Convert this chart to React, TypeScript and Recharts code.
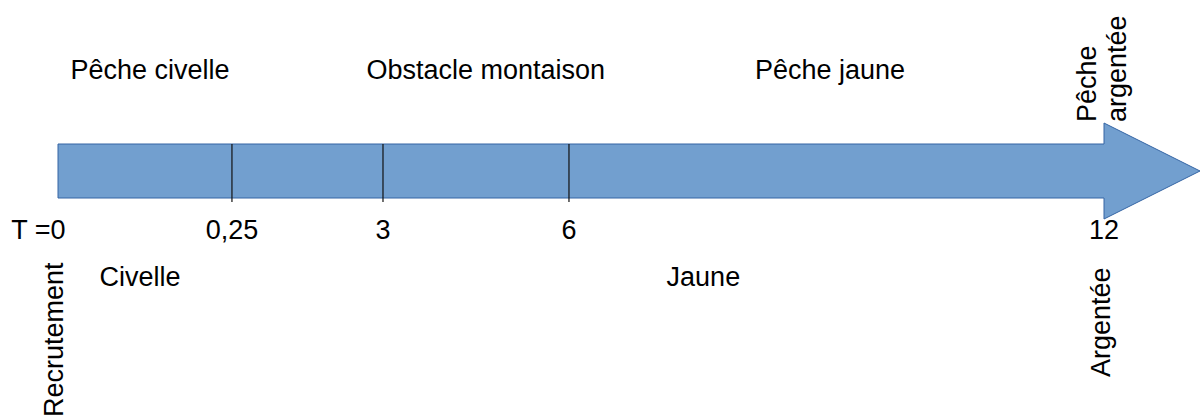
import React from 'react';
import { ComposedChart, Bar, XAxis, YAxis, ReferenceDot } from 'recharts';

// ---- data ----
const milestoneLabels = ['0', '0,25', '3', '6', '12'];
const segmentKeys = ['s0', 's1', 's2', 's3'];
// relative (schematic) length of each stage along the arrow, in % of the shaft
const segmentWidths = [16.63, 14.44, 17.78, 51.15];
const topLabels = ['Pêche civelle', 'Obstacle montaison', 'Pêche jaune'];
const topLabelPos = [8.8, 40.9, 73.8];
const stageLabels = ['Civelle', 'Jaune'];
const stageLabelPos = [7.84, 61.7];
const eventLabels = ['Recrutement', 'Argentée'];
const eventLabelPos = [0, 100];
const topEventLines = ['Pêche', 'argentée'];
const topEventPos = 100;

// ---- derived ----
const boundaries = segmentWidths.reduce<number[]>((acc, w) => [...acc, acc[acc.length - 1] + w], [0]);
const row: Record<string, string | number> = { name: 'arrow' };
segmentKeys.forEach((k, i) => { row[k] = segmentWidths[i]; });
const chartData = [row];

// ---- styles ----
const FILL = '#729fcf';
const EDGE = '#3465a4';
const FONT = 'Liberation Sans, Arial, sans-serif';
const FS = 27;
const HEAD_LEN = 96;
const HEAD_OVER = 21;

function SegmentShape(props: any) {
  const { x, y, width, height, seg } = props;
  const last = seg === segmentKeys.length - 1;
  const bottom = y + height;
  return (
    <g>
      {last ? (
        <>
          <polygon
            points={`${x},${y} ${x + width},${y} ${x + width},${y - HEAD_OVER} ${x + width + HEAD_LEN},${y + height / 2} ${x + width},${bottom + HEAD_OVER} ${x + width},${bottom} ${x},${bottom}`}
            fill={FILL}
            stroke="none"
          />
          <polyline
            points={`${x},${y} ${x + width},${y} ${x + width},${y - HEAD_OVER} ${x + width + HEAD_LEN},${y + height / 2} ${x + width},${bottom + HEAD_OVER} ${x + width},${bottom} ${x},${bottom}`}
            fill="none"
            stroke={EDGE}
            strokeWidth={1}
          />
        </>
      ) : (
        <>
          <rect x={x} y={y} width={width} height={height} fill={FILL} />
          <line x1={x} y1={y} x2={x + width} y2={y} stroke={EDGE} strokeWidth={1} />
          <line x1={x} y1={bottom} x2={x + width} y2={bottom} stroke={EDGE} strokeWidth={1} />
        </>
      )}
      {seg === 0 ? (
        <line x1={x} y1={y} x2={x} y2={bottom} stroke={EDGE} strokeWidth={1} />
      ) : (
        <line x1={x} y1={y} x2={x} y2={bottom + 4} stroke="#111" strokeWidth={1.2} />
      )}
    </g>
  );
}

function MilestoneTick(props: any) {
  const { x, y, index } = props;
  const label = milestoneLabels[index];
  const first = index === 0;
  return (
    <text
      x={first ? x + FS * 0.278 : x}
      y={y + 41}
      textAnchor={first ? 'end' : 'middle'}
      fontFamily={FONT}
      fontSize={FS}
      fill="#000"
    >
      {first ? `T =${label}` : label}
    </text>
  );
}

function centerOf(vb: any) {
  return { cx: vb.x + (vb.width || 0) / 2, cy: vb.y + (vb.height || 0) / 2 };
}

function flatLabel(text: string, dy: number) {
  return (p: any) => {
    const { cx, cy } = centerOf(p.viewBox);
    return (
      <text x={cx} y={cy + dy} textAnchor="middle" fontFamily={FONT} fontSize={FS} fill="#000">
        {text}
      </text>
    );
  };
}

function rotatedLabel(lines: string[], dxs: number[], dy: number) {
  return (p: any) => {
    const { cx, cy } = centerOf(p.viewBox);
    return (
      <g>
        {lines.map((t, i) => {
          const tx = cx + dxs[i];
          const ty = cy + dy;
          return (
            <text
              key={i}
              x={tx}
              y={ty}
              transform={`rotate(-90 ${tx} ${ty})`}
              textAnchor="start"
              fontFamily={FONT}
              fontSize={FS}
              fill="#000"
            >
              {t}
            </text>
          );
        })}
      </g>
    );
  };
}

export default function App() {
  return (
    <div style={{ position: 'absolute', left: 0, top: 0, width: 1200, height: 419, background: '#fff' }}>
      <ComposedChart
        width={1200}
        height={419}
        data={chartData}
        layout="vertical"
        margin={{ top: 144, right: 96, bottom: 191, left: 58 }}
        barCategoryGap={0}
      >
        <XAxis
          type="number"
          domain={[0, 100]}
          ticks={boundaries}
          interval={0}
          axisLine={false}
          tickLine={false}
          tickSize={0}
          tickMargin={0}
          height={30}
          tick={<MilestoneTick />}
        />
        <YAxis type="category" dataKey="name" hide />
        {segmentKeys.map((k, i) => (
          <Bar
            key={k}
            dataKey={k}
            stackId="arrow"
            isAnimationActive={false}
            shape={(p: any) => <SegmentShape {...p} seg={i} />}
          />
        ))}
        {topLabels.map((t, i) => (
          <ReferenceDot
            key={`top-${i}`}
            x={topLabelPos[i]}
            y="arrow"
            r={0}
            ifOverflow="visible"
            label={{ content: flatLabel(t, -92) } as any}
          />
        ))}
        {stageLabels.map((t, i) => (
          <ReferenceDot
            key={`stage-${i}`}
            x={stageLabelPos[i]}
            y="arrow"
            r={0}
            ifOverflow="visible"
            label={{ content: flatLabel(t, 115) } as any}
          />
        ))}
        <ReferenceDot
          x={eventLabelPos[0]}
          y="arrow"
          r={0}
          ifOverflow="visible"
          label={{ content: rotatedLabel([eventLabels[0]], [5], 246) } as any}
        />
        <ReferenceDot
          x={eventLabelPos[1]}
          y="arrow"
          r={0}
          ifOverflow="visible"
          label={{ content: rotatedLabel([eventLabels[1]], [6], 206) } as any}
        />
        <ReferenceDot
          x={topEventPos}
          y="arrow"
          r={0}
          ifOverflow="visible"
          label={{ content: rotatedLabel(topEventLines, [-8, 22], -49) } as any}
        />
      </ComposedChart>
    </div>
  );
}
